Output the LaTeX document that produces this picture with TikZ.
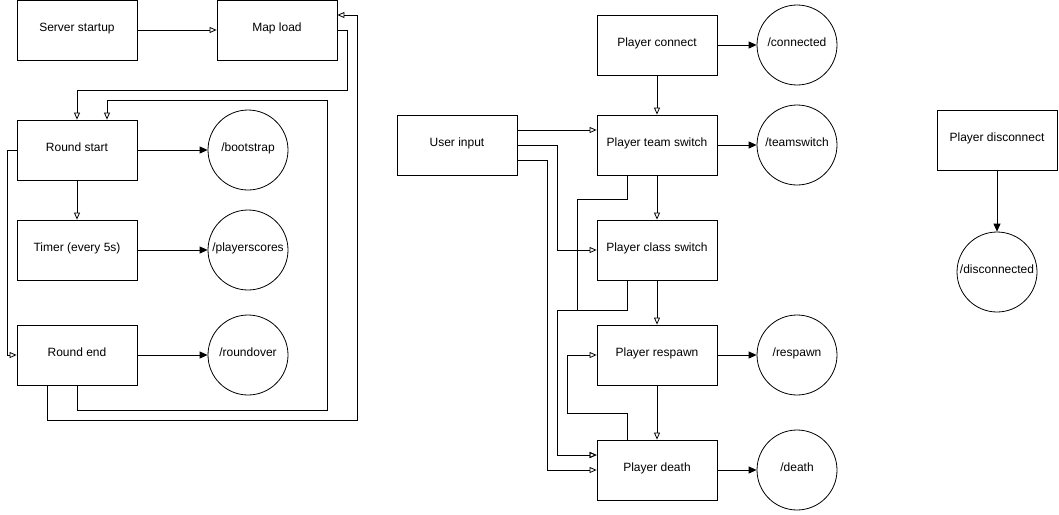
\documentclass[tikz,border=0pt]{standalone}
\usepackage{fontspec}
\setmainfont{Liberation Sans}
\usetikzlibrary{arrows.meta}

\begin{document}
\begin{tikzpicture}[x=1pt,y=-1pt,line width=0.8pt,
    font=\fontsize{12}{14}\selectfont,
    openarrow/.style={-{Triangle[open,length=7pt,width=6pt]}},
    fillarrow/.style={-{Triangle[length=8pt,width=7pt]}}]

        \useasboundingbox (0,0) rectangle (1059,514);

        \begin{scope}[every node/.style={rectangle,draw,minimum width=120pt,minimum height=60pt,inner sep=0pt,text height=9pt,text depth=6pt}]
          \node (startup)    at (77,30)   {Server startup};
          \node (mapload)    at (277,30)  {Map load};
          \node (roundstart) at (77,150)  {Round start};
          \node (timer)      at (77,250)  {Timer (every 5s)};
          \node (roundend)   at (77,355)  {Round end};
          \node (userinput)  at (457,145) {User input};
          \node (connect)    at (657,45)  {Player connect};
          \node (teamswitch) at (657,145) {Player team switch};
          \node (classswitch) at (657,250) {Player class switch};
          \node (respawn)    at (657,355) {Player respawn};
          \node (death)      at (657,470) {Player death};
          \node (disconnect) at (997,140) {Player disconnect};
        \end{scope}

        \begin{scope}[every node/.style={circle,draw,minimum size=80pt,inner sep=0pt,text height=9pt,text depth=6pt}]
          \node (bootstrapev)    at (248,150) {/bootstrap};
          \node (scoresev)       at (248,250) {/playerscores};
          \node (roundoverev)    at (248,355) {/roundover};
          \node (connectedev)    at (797,45)  {/connected};
          \node (teamswitchev)   at (797,145) {/teamswitch};
          \node (respawnev)      at (797,355) {/respawn};
          \node (deathev)        at (797,470) {/death};
          \node (disconnectedev) at (997,272) {/disconnected};
        \end{scope}

        % round cycle
        \draw[openarrow] (startup) -- (mapload);
        \draw[openarrow] (mapload.east) -- (347,30) -- (347,90) -- (77,90) -- (roundstart.north);
        \draw[openarrow] (roundstart) -- (timer);
        \draw[openarrow] (roundstart.west) -- (7,150) -- (7,355) -- (roundend.west);
        \draw[openarrow] (roundend.south) -- (77,410) -- (327,410) -- (327,100) -- (107,100) -- ([xshift=30pt]roundstart.north);
        \draw[openarrow] ([xshift=-30pt]roundend.south) -- (47,420) -- (357,420) -- (357,15) -- ([yshift=15pt]mapload.east);

        \draw[fillarrow] (roundstart) -- (bootstrapev);
        \draw[fillarrow] (timer) -- (scoresev);
        \draw[fillarrow] (roundend) -- (roundoverev);

        % player events
        \draw[openarrow] (connect) -- (teamswitch);
        \draw[openarrow] (teamswitch) -- (classswitch);
        \draw[openarrow] (classswitch) -- (respawn);
        \draw[openarrow] (respawn) -- (death);
        \draw[openarrow] ([yshift=15pt]userinput.east) -- ([yshift=15pt]teamswitch.west);
        \draw[openarrow] (userinput.east) -- (557,145) -- (557,250) -- (classswitch.west);
        \draw[openarrow] ([yshift=-15pt]userinput.east) -- (547,160) -- (547,470) -- (death.west);
        \draw[openarrow] ([xshift=-30pt]teamswitch.south) -- (627,199) -- (577,199) -- (577,310) -- (557,310) -- (557,455) -- ([yshift=15pt]death.west);
        \draw[openarrow] ([xshift=-30pt]classswitch.south) -- (627,310) -- (557,310) -- (557,455) -- ([yshift=15pt]death.west);
        \draw[openarrow] ([xshift=-30pt]death.north) -- (627,413) -- (567,413) -- (567,355) -- (respawn.west);

        \draw[fillarrow] (connect) -- (connectedev);
        \draw[fillarrow] (teamswitch) -- (teamswitchev);
        \draw[fillarrow] (respawn) -- (respawnev);
        \draw[fillarrow] (death) -- (deathev);
        \draw[fillarrow] (disconnect) -- (disconnectedev);

      \end{tikzpicture}
\end{document}
